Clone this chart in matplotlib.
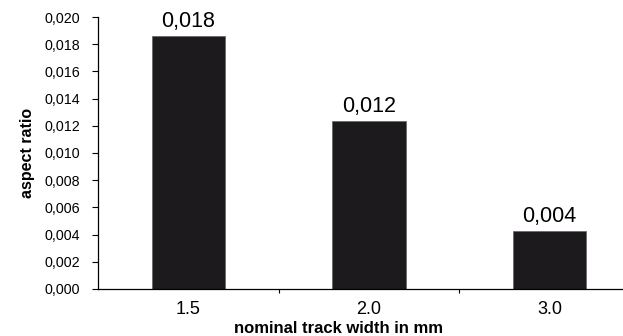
"""Bar chart: aspect ratio vs nominal track width."""

import matplotlib
matplotlib.use('Agg')
import matplotlib.pyplot as plt
from matplotlib.ticker import MultipleLocator, FuncFormatter, FixedLocator

track_widths = ['1.5', '2.0', '3.0']
aspect_ratio = [0.0186, 0.01235, 0.00425]
value_labels = ['0,018', '0,012', '0,004']

plt.rcParams['font.family'] = ['Liberation Sans', 'DejaVu Sans']

fig = plt.figure(figsize=(6.23, 3.36), dpi=100)
# axes runs past the right edge like in the original
ax = fig.add_axes([98 / 623, 47 / 336, 542 / 623, 272 / 336])

x = list(range(len(track_widths)))
bars = ax.bar(x, aspect_ratio, width=0.405, color='#1c1a1c',
              edgecolor='#6a6a6a', linewidth=0.6)

for xi, val, lab in zip(x, aspect_ratio, value_labels):
    ax.annotate(lab, (xi, val), xytext=(0, 3), textcoords='offset points',
                ha='center', va='bottom', fontsize=15.5)

ax.set_xlim(-0.5, 2.5)
ax.set_ylim(0, 0.020)
ax.yaxis.set_major_locator(MultipleLocator(0.002))
ax.yaxis.set_major_formatter(FuncFormatter(lambda v, p: f'{v:.3f}'.replace('.', ',')))
ax.tick_params(axis='y', length=4, width=0.8, pad=9, labelsize=10.3, direction='out')

ax.set_xticks(x)
ax.set_xticklabels(track_widths)
ax.xaxis.set_minor_locator(FixedLocator([0.5, 1.5]))
ax.tick_params(axis='x', which='major', length=0, pad=9, labelsize=13)
ax.tick_params(axis='x', which='minor', length=3, width=0.8, direction='out')

for side in ['top', 'right']:
    ax.spines[side].set_visible(False)
for side in ['left', 'bottom']:
    ax.spines[side].set_linewidth(0.9)

ax.set_xlabel('nominal track width in mm', fontsize=12, fontweight='bold')
ax.xaxis.set_label_coords((339 - 98) / 542, -(321 - 289) / 272)
ax.set_ylabel('aspect ratio', fontsize=11.5, fontweight='bold')
ax.yaxis.set_label_coords(-(98 - 35) / 542, 0.5)

fig.savefig('out.png', dpi=100)
